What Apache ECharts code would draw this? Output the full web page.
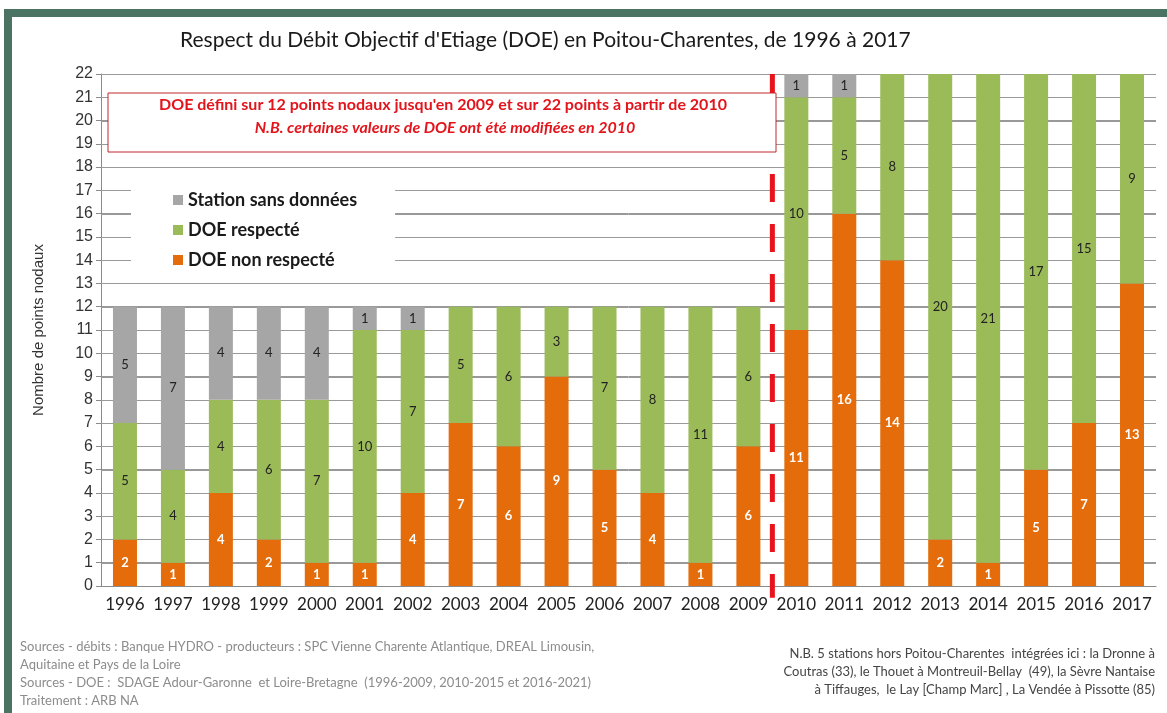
<!DOCTYPE html>
<html>
<head>
<meta charset="utf-8">
<script src="https://cdn.jsdelivr.net/npm/echarts@6/dist/echarts.min.js"></script>
<style>
  html, body { margin: 0; padding: 0; background: #fff; }
  #chart { width: 1167px; height: 713px; }
</style>
</head>
<body>
<div id="chart"></div>
<script>
// données
const years = ['1996', '1997', '1998', '1999', '2000', '2001', '2002', '2003', '2004', '2005', '2006',
  '2007', '2008', '2009', '2010', '2011', '2012', '2013', '2014', '2015', '2016', '2017'];
const nonRespecte = [2, 1, 4, 2, 1, 1, 4, 7, 6, 9, 5, 4, 1, 6, 11, 16, 14, 2, 1, 5, 7, 13];
const respecte = [5, 4, 4, 6, 7, 10, 7, 5, 6, 3, 7, 8, 11, 6, 10, 5, 8, 20, 21, 17, 15, 9];
const sansDonnees = [5, 7, 4, 4, 4, 1, 1, 0, 0, 0, 0, 0, 0, 0, 1, 1, 0, 0, 0, 0, 0, 0];
// graduations horizontales (lignes de grille)
const yTicks = [1, 2, 3, 4, 5, 6, 7, 8, 9, 10, 11, 12, 13, 14, 15, 16, 17, 18, 19, 20, 21, 22];
// rupture entre 2009 et 2010
const breakYears = ['2009', '2010'];

const labelFmt = p => (p.value > 0 ? p.value : '');
const font = 'Lato, "Open Sans", sans-serif';

const chart = echarts.init(document.getElementById('chart'));

chart.setOption({
  animation: false,
  title: {
    text: "Respect du Débit Objectif d'Etiage (DOE) en Poitou-Charentes, de 1996 à 2017",
    left: 175,
    top: 25,
    textStyle: { fontFamily: font, fontSize: 21, fontWeight: 'normal', color: '#1a1a1a' }
  },
  legend: {
    data: ['Station sans données', 'DOE respecté', 'DOE non respecté'],
    orient: 'vertical',
    left: 131,
    top: 183,
    padding: [6, 38, 8, 42],
    backgroundColor: '#fff',
    icon: 'rect',
    itemWidth: 10,
    itemHeight: 10,
    itemGap: 8,
    textStyle: { fontFamily: font, fontSize: 18, fontWeight: 'bold', color: '#1a1a1a', lineHeight: 22 }
  },
  grid: { left: 101, right: 11, top: 74, bottom: 127 },
  xAxis: {
    type: 'category',
    data: years,
    axisLine: { lineStyle: { color: '#8a8a8a' } },
    axisTick: { length: 5, lineStyle: { color: '#8a8a8a' } },
    axisLabel: { interval: 0, fontFamily: font, fontSize: 17, color: '#222', margin: 10 },
    splitLine: { show: false }
  },
  yAxis: {
    type: 'value',
    min: 0,
    max: 22,
    interval: 1,
    name: 'Nombre de points nodaux',
    nameLocation: 'middle',
    nameGap: 55,
    nameTextStyle: { fontFamily: '"Liberation Sans", Arial, sans-serif', fontSize: 15, color: '#333' },
    axisLine: { show: true, onZero: false, lineStyle: { color: '#8a8a8a' } },
    axisTick: { show: true, length: 5, lineStyle: { color: '#8a8a8a' } },
    axisLabel: { fontFamily: '"Liberation Sans", Arial, sans-serif', fontSize: 16, color: '#333', margin: 8 },
    splitLine: { show: true, lineStyle: { color: '#999999', width: 1 } }
  },
  series: [
    {
      name: 'DOE non respecté', type: 'bar', stack: 'tot', barWidth: 24,
      itemStyle: { color: '#e46c0a' },
      label: { show: true, formatter: labelFmt, color: '#fff', fontWeight: 'bold', fontFamily: font, fontSize: 13 },
      data: nonRespecte
    },
    {
      name: 'DOE respecté', type: 'bar', stack: 'tot', barWidth: 24,
      itemStyle: { color: '#9bbb59' },
      label: { show: true, formatter: labelFmt, color: '#222', fontFamily: font, fontSize: 13 },
      data: respecte
    },
    {
      name: 'Station sans données', type: 'bar', stack: 'tot', barWidth: 24,
      itemStyle: { color: '#a6a6a6' },
      label: { show: true, formatter: labelFmt, color: '#222', fontFamily: font, fontSize: 13 },
      data: sansDonnees
    }
  ]
});

// positions calculées par les échelles du graphique
const px = v => chart.convertToPixel({ xAxisIndex: 0 }, v);
const py = v => chart.convertToPixel({ yAxisIndex: 0 }, v);
const step = px(years[1]) - px(years[0]);
const xLeft = px(years[0]) - step / 2;
const xRight = px(years[years.length - 1]) + step / 2;
const xBreak = (px(breakYears[0]) + px(breakYears[1])) / 2;

const gridLines = yTicks.map(v => {
  const y = Math.round(py(v)) + 0.5;
  return { type: 'line', z: 1, silent: true, shape: { x1: xLeft, y1: y, x2: xRight, y2: y },
    style: { stroke: '#999999', lineWidth: 1 } };
});

chart.setOption({
  graphic: gridLines.concat([
    // cadre vert à gauche et en haut
    { type: 'rect', z: 100, shape: { x: 4, y: 9, width: 8, height: 704 }, style: { fill: '#4a7364' } },
    { type: 'rect', z: 100, shape: { x: 4, y: 9, width: 1163, height: 8 }, style: { fill: '#4a7364' } },
    // rupture 2009 / 2010
    { type: 'line', z: 50, shape: { x1: xBreak, y1: py(22), x2: xBreak, y2: py(-0.5) },
      style: { stroke: '#e8141c', lineWidth: 5, lineDash: [28, 22] } },
    // encadré rouge
    { type: 'rect', z: 100, shape: { x: 108, y: 93, width: 668, height: 59 },
      style: { fill: '#fff', stroke: '#c0282d', lineWidth: 1 } },
    { type: 'text', z: 101, x: 443, y: 105,
      style: { text: "DOE défini sur 12 points nodaux jusqu'en 2009 et sur 22 points à partir de 2010",
        fill: '#e3141b', font: 'bold 16px ' + font, align: 'center', verticalAlign: 'middle' } },
    { type: 'text', z: 101, x: 445, y: 128,
      style: { text: 'N.B. certaines valeurs de DOE ont été modifiées en 2010',
        fill: '#e3141b', font: 'italic bold 16px ' + font, align: 'center', verticalAlign: 'middle' } },
    // sources
    { type: 'text', z: 100, x: 20, y: 638,
      style: { text: 'Sources - débits : Banque HYDRO - producteurs : SPC Vienne Charente Atlantique, DREAL Limousin,\nAquitaine et Pays de la Loire\nSources - DOE :  SDAGE Adour-Garonne  et Loire-Bretagne  (1996-2009, 2010-2015 et 2016-2021)\nTraitement : ARB NA',
        fill: '#8c8c8c', font: '13px ' + font, lineHeight: 18 } },
    { type: 'text', z: 100, x: 1155, y: 645,
      style: { text: 'N.B. 5 stations hors Poitou-Charentes  intégrées ici : la Dronne à\nCoutras (33), le Thouet à Montreuil-Bellay  (49), la Sèvre Nantaise\nà Tiffauges,  le Lay [Champ Marc] , La Vendée à Pissotte (85)',
        fill: '#444', font: '13px ' + font, lineHeight: 18, align: 'right' } }
  ])
});
</script>
</body>
</html>
